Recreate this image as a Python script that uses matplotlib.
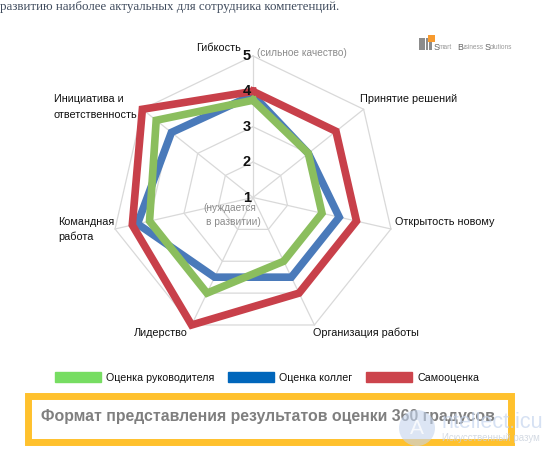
import numpy as np
import matplotlib
matplotlib.use("Agg")
import matplotlib.pyplot as plt
from matplotlib.patches import Patch, Rectangle, Circle

W, H = 554, 453
plt.rcParams['font.family'] = ['Liberation Sans', 'DejaVu Sans']

categories = ["Гибкость", "Принятие решений", "Открытость новому", "Организация работы",
              "Лидерство", "Командная\nработа", "Инициатива и\nответственность"]
ticks = [1, 2, 3, 4, 5]
manager = [3.75, 3.0, 3.0, 3.0, 4.0, 4.0, 4.5]
peers = [3.9, 3.0, 3.5, 3.5, 3.5, 4.35, 3.95]
self_eval = [4.0, 4.0, 4.0, 4.0, 5.0, 4.5, 5.0]
series_names = ["Оценка руководителя", "Оценка коллег", "Самооценка"]

C_GREEN, C_BLUE, C_RED = "#8BBE5E", "#4A7ABA", "#C8404A"
L_GREEN, L_BLUE, L_RED = "#77DD62", "#0066BB", "#CC444C"

fig = plt.figure(figsize=(W / 100, H / 100), dpi=100, facecolor="white")

# overlay in pixel coordinates for page furniture
bg = fig.add_axes([0, 0, 1, 1])
bg.set_xlim(0, W); bg.set_ylim(H, 0); bg.axis("off")

# header text
bg.text(0, 7, "развитию наиболее актуальных для сотрудника компетенций.",
        family=["Liberation Serif"], fontsize=9.25, color="#3E4A5C", va="center", ha="left")

# logo
for i in range(4):
    for j in range(3):
        bg.add_patch(Rectangle((419 + i * 3.3, 38 + j * 4.1), 2.8, 3.6, color="#8C8C8C", lw=0))
bg.add_patch(Rectangle((428, 35), 7, 7, color="#F79A2E", lw=0))
for x, s, fs, col in [(434, "S", 6.4, "#666666"), (439, "mart", 4.7, "#999999"),
                      (457, "B", 6.4, "#666666"), (462, "usiness", 4.7, "#999999"),
                      (485, "S", 6.4, "#666666"), (490, "olutions", 4.7, "#999999")]:
    bg.text(x, 47.5, s, fontsize=fs, color=col, va="center")

# frame and title
bg.add_patch(Rectangle((27.5, 396), 483, 45.5, fill=False, ec="#FFC12D", lw=5, joinstyle="miter"))
bg.text(41, 417, "Формат представления результатов оценки 360 градусов",
        fontsize=11.47, fontweight="bold", color="#7F7F7F", va="center", ha="left", zorder=3)

# radar
cx, cy, R = 253, 197.5, 141.5
ax = fig.add_axes([(cx - R) / W, 1 - (cy + R) / H, 2 * R / W, 2 * R / H], projection="polar")
ax.set_theta_zero_location("N")
ax.set_theta_direction(-1)
ax.set_ylim(1, 5)
ax.axis("off")
ax.patch.set_alpha(0)

angles = np.linspace(0, 2 * np.pi, len(categories), endpoint=False)
closed = np.r_[angles, angles[0]]
for t in ticks[1:]:
    ax.plot(closed, [t] * len(closed), color="#D9D9D9", lw=0.9, zorder=1, clip_on=False)
for a in angles:
    ax.plot([a, a], [1, 5], color="#D9D9D9", lw=0.9, zorder=1, clip_on=False)

for vals, col, z in [(peers, C_BLUE, 2), (self_eval, C_RED, 3), (manager, C_GREEN, 4)]:
    ax.plot(closed, list(vals) + [vals[0]], color=col, lw=5.5, zorder=z,
            solid_joinstyle="miter", clip_on=False)

for t in ticks:
    ax.text(0, t, str(t), fontsize=10.5, fontweight="bold", color="#111111",
            ha="right", va="center", zorder=6, clip_on=False,
            transform=ax.transData + matplotlib.transforms.ScaledTranslation(-2 / 100, 0, fig.dpi_scale_trans))

# category labels (pixel positions)
label_pos = [(241, 48, "right"), (360, 99, "left"), (395, 222, "left"), (313, 333, "left"),
             (188, 333, "right"), (58, 229.5, "left"), (54, 107, "left")]
overlay = fig.add_axes([0, 0, 1, 1])
overlay.set_xlim(0, W); overlay.set_ylim(H, 0); overlay.axis("off"); overlay.patch.set_alpha(0)
for txt, (x, y, ha) in zip(categories, label_pos):
    overlay.text(x, y, txt, fontsize=7.8, color="#111111", ha=ha, va="center", linespacing=1.65)

overlay.text(257, 53, "(сильное качество)", fontsize=7.25, color="#8C8C8C", va="center")
overlay.text(230, 208, "(нуждается", fontsize=7.25, color="#8C8C8C", ha="center", va="center")
overlay.text(233.5, 222, "в развитии)", fontsize=7.25, color="#8C8C8C", ha="center", va="center")

# faint watermark
overlay.add_patch(Circle((417, 428), 18, color="#C5D5EE", alpha=0.6, lw=0))
overlay.text(417, 428, "A", fontsize=15, color="white", alpha=0.8, ha="center", va="center")
overlay.text(442, 422, "ntellect.icu", fontsize=15.5, color="#C5D5EE", alpha=0.7, va="center")
overlay.text(442, 438, "Искусственный разум", fontsize=7, color="#C9D1DC", alpha=0.8, va="center")

# legend
handles = [Patch(color=c) for c in (L_GREEN, L_BLUE, L_RED)]
leg = fig.legend(handles, series_names, ncol=3, frameon=False, fontsize=7.7,
                 loc="center left", bbox_to_anchor=(55 / W, 1 - 377.5 / H),
                 borderaxespad=0, borderpad=0,
                 handlelength=4.3, handleheight=1.03, handletextpad=0.47,
                 columnspacing=1.3, labelcolor="#111111")

fig.savefig("out.png", dpi=100)
